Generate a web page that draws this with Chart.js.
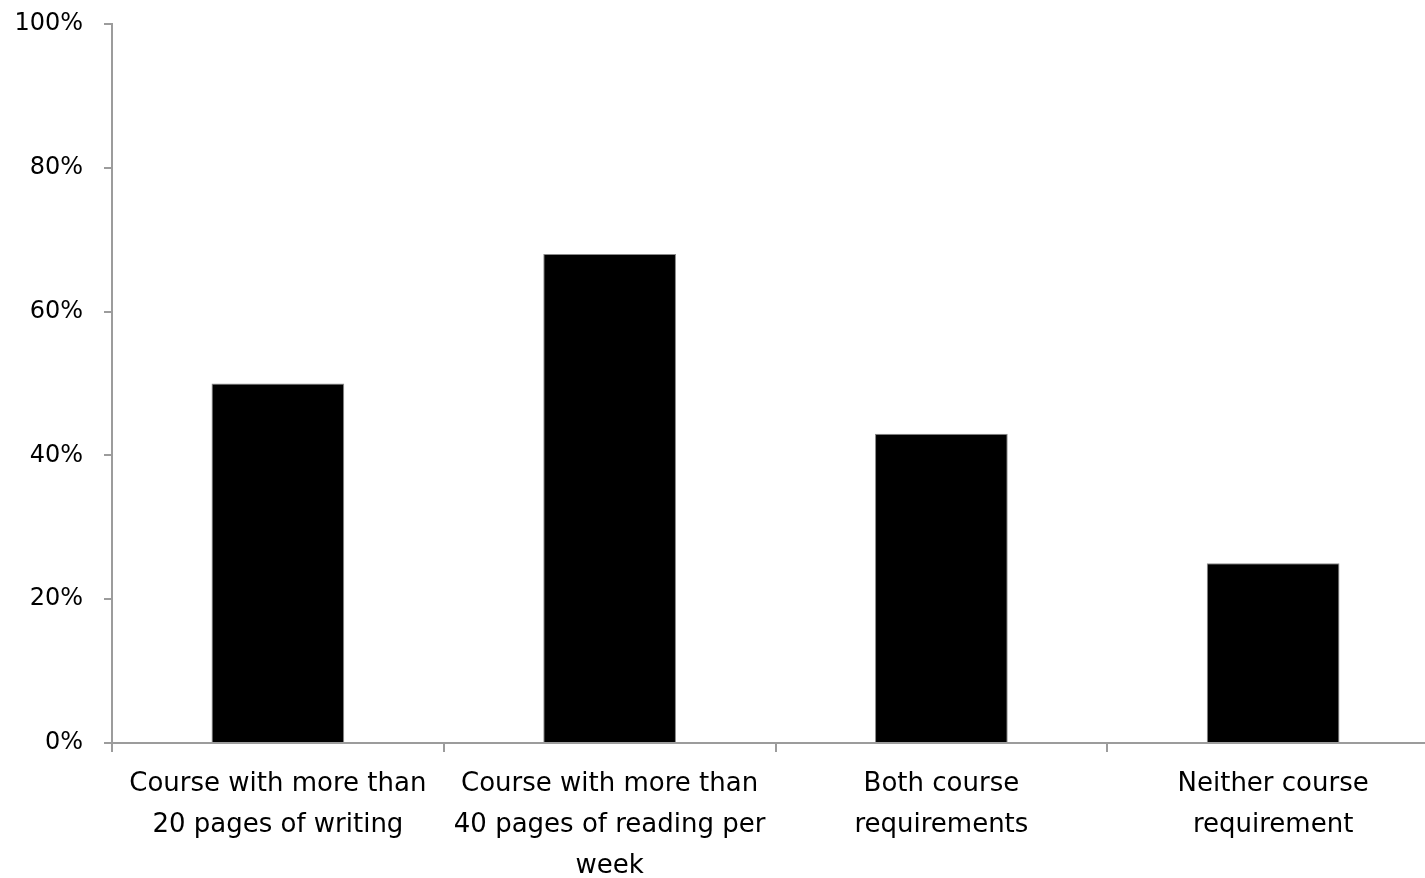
<!DOCTYPE html>
<html>
<head>
<meta charset="utf-8">
<script src="https://cdn.jsdelivr.net/npm/chart.js@4/dist/chart.umd.min.js"></script>
<style>
    html, body { margin: 0; padding: 0; background: #fff; overflow: hidden; }
    #wrap { width: 1440px; height: 878px; }
</style>
</head>
<body>
<div id="wrap"><canvas id="chart" width="1440" height="878"></canvas></div>
<script>
// Data
const categories = [
    ['Course with more than', '20 pages of writing'],
    ['Course with more than', '40 pages of reading per', 'week'],
    ['Both course', 'requirements'],
    ['Neither course', 'requirement']
];
const shares = [50, 68, 43, 25];
const yTicks = [0, 20, 40, 60, 80, 100];

const axisGrey = '#9c9c9c';

const ctx = document.getElementById('chart').getContext('2d');
const chart = new Chart(ctx, {
    type: 'bar',
    data: {
        labels: categories,
        datasets: [{
            data: shares,
            backgroundColor: '#000000',
            borderColor: '#8a8a8a',
            borderWidth: 1,
            barPercentage: 0.4,
            categoryPercentage: 1.0
        }]
    },
    options: {
        responsive: false,
        animation: false,
        layout: { padding: { top: 24, right: 1, left: 0, bottom: 0 } },
        plugins: {
            legend: { display: false },
            tooltip: { enabled: false }
        },
        scales: {
            x: {
                grid: {
                    display: true,
                    drawOnChartArea: false,
                    drawTicks: true,
                    tickLength: 9,
                    lineWidth: 2,
                    color: axisGrey,
                    offset: true
                },
                border: { color: axisGrey, width: 2 },
                ticks: {
                    color: '#000',
                    padding: 12,
                    maxRotation: 0,
                    autoSkip: false,
                    font: { family: 'DejaVu Sans', size: 26, lineHeight: 1.58 }
                },
                afterFit: function(scale) {
                    scale.height = 135;
                    scale.paddingLeft = 0;
                    scale.paddingRight = 0;
                }
            },
            y: {
                min: 0,
                max: 100,
                afterBuildTicks: function(scale) {
                    scale.ticks = yTicks.map(v => ({ value: v }));
                },
                grid: {
                    display: true,
                    drawOnChartArea: false,
                    drawTicks: true,
                    tickLength: 8,
                    lineWidth: 2,
                    color: axisGrey
                },
                border: { color: axisGrey, width: 2 },
                ticks: {
                    color: '#000',
                    padding: 21,
                    callback: function(value) { return value + '%'; },
                    font: { family: 'DejaVu Sans', size: 24 }
                },
                afterFit: function(scale) {
                    scale.width = 112;
                    scale.paddingTop = 0;
                    scale.paddingBottom = 0;
                }
            }
        }
    }
});
</script>
</body>
</html>
